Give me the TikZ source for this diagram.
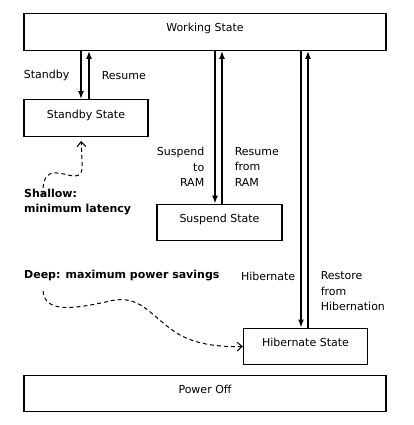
\documentclass[tikz,border=0pt]{standalone}
\usepackage{fontspec}
\setmainfont{DejaVu Sans}
\usepackage{tikz}
\usetikzlibrary{arrows.meta}
\tikzstyle{statebox}=[rectangle,draw,line width=1.4pt,minimum height=36.5pt,inner sep=0pt,text height=8pt,text depth=8pt,font=\fontsize{11}{13}\selectfont]
\tikzstyle{edge} = [draw,line width=1.5pt,-{Latex[length=8pt,width=6pt]}]
\tikzstyle{hint} = [draw,line width=1pt,dash pattern=on 4pt off 3pt,-{Straight Barb[length=5pt,width=9pt]}]
\tikzstyle{weight} = [inner sep=0pt,font=\fontsize{11}{15.5}\selectfont]
\tikzstyle{note} = [inner sep=0pt,anchor=base west,align=left,font=\bfseries\fontsize{11}{15}\selectfont]

\begin{document}
\begin{tikzpicture}[x=1pt,y=-1pt]

    \useasboundingbox (0,0) rectangle (413,425);

     \foreach \x/\y/\w/\name/\txt in {205/32/362/work/Working State, 86/118/124/standby/Standby State, 219.5/222.5/125/suspend/Suspend State, 305.5/346.5/124/hibernate/Hibernate State, 205/393.5/362/off/Power Off}
        \node[statebox, minimum width=\w pt] (\name) at (\x,\y) {\txt};

    % going down
    \foreach \dest/\dx/\gap/\p/\txt in {standby/-5/11/0.52/Standby, suspend/-4.5/10/0.76/{Suspend\\to\\RAM}, hibernate/-4.5/5/0.815/Hibernate}
        \path[edge] ([xshift=\dx pt]\dest.north |- work.south) -- node[weight, left=\gap pt, pos=\p, align=right] {\txt} ([xshift=\dx pt]\dest.north);

    % coming back
    \foreach \dest/\dx/\gap/\p/\txt in {standby/3/12/0.48/Resume, suspend/2.5/12/0.24/{Resume\\from\\RAM}, hibernate/2.5/12/0.131/{Restore\\from\\Hibernation}}
        \path[edge] ([xshift=\dx pt]\dest.north) -- node[weight, right=\gap pt, pos=\p, align=left] {\txt} ([xshift=\dx pt]\dest.north |- work.south);

    \node[note] (shallow) at (24,212) {Shallow:\\minimum latency};
    \node[note] (deep) at (24,278) {Deep: maximum power savings};

    \coordinate (s1) at (43,195);
    \coordinate (d1) at (43,291);

    \path[hint, shorten >=4pt] (s1) .. controls (42,168) and (55,172) .. (68,175) .. controls (80,178) and (83,174) .. (82,162) -- ([xshift=-5pt]standby.south);
    \path[hint] (d1) .. controls (45,312) and (70,310) .. (110,301) .. controls (140,294) and (150,315) .. (175,332) .. controls (195,345) and (220,347) .. (hibernate.west);

\end{tikzpicture}
\end{document}
